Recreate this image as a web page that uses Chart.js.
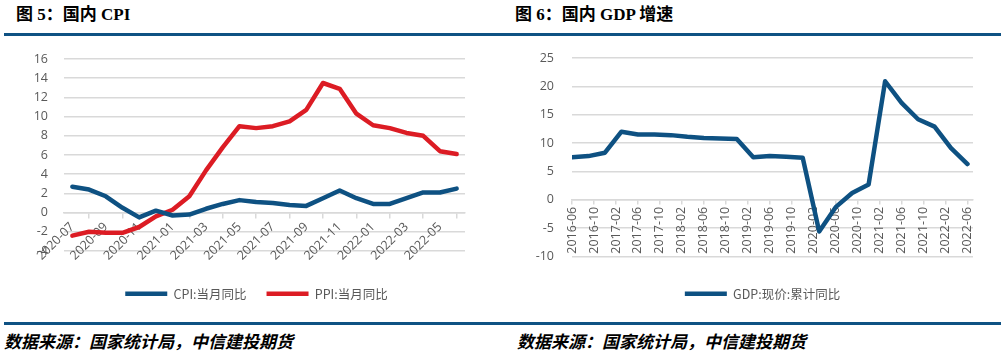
<!DOCTYPE html>
<html>
<head>
<meta charset="utf-8">
<script src="https://cdn.jsdelivr.net/npm/chart.js@4.4.1/dist/chart.umd.min.js"></script>
<style>
  html, body { margin:0; padding:0; background:#fff; }
  body { width:1001px; height:355px; position:relative; overflow:hidden; }
  .title { position:absolute; top:6px; font-family:"Liberation Serif","Noto Sans CJK SC",serif; font-weight:bold; font-size:17px; line-height:17px; color:#000; white-space:nowrap; }
  .rule { position:absolute; left:4px; width:997px; height:3px; background:#0f5283; }
  .src { position:absolute; top:332px; font-family:"Noto Sans CJK SC",sans-serif; font-weight:bold; font-style:italic; font-size:17px; line-height:17px; color:#000; white-space:nowrap; }
  .box { position:absolute; top:40px; height:270px; }
</style>
</head>
<body>
<div class="title" style="left:16px">图 5：国内 CPI</div>
<div class="title" style="left:515px">图 6：国内 GDP 增速</div>
<div class="rule" style="top:33px"></div>
<div class="box" style="left:0;width:500px"><canvas id="c1" width="500" height="270"></canvas></div>
<div class="box" style="left:500px;width:501px"><canvas id="c2" width="501" height="270"></canvas></div>
<div class="rule" style="top:322px"></div>
<div class="src" style="left:4px">数据来源：国家统计局，中信建投期货</div>
<div class="src" style="left:517px">数据来源：国家统计局，中信建投期货</div>
<script>
// ---------- data ----------
const cpiMonths = ['2020-07','2020-08','2020-09','2020-10','2020-11','2020-12',
  '2021-01','2021-02','2021-03','2021-04','2021-05','2021-06','2021-07','2021-08',
  '2021-09','2021-10','2021-11','2021-12','2022-01','2022-02','2022-03','2022-04',
  '2022-05','2022-06'];
const cpiValues = [2.7,2.4,1.7,0.5,-0.5,0.2,-0.3,-0.2,0.4,0.9,1.3,1.1,1.0,0.8,0.7,1.5,2.3,1.5,0.9,0.9,1.5,2.1,2.1,2.5];
const ppiValues = [-2.4,-2.0,-2.1,-2.1,-1.5,-0.4,0.3,1.7,4.4,6.8,9.0,8.8,9.0,9.5,10.7,13.5,12.9,10.3,9.1,8.8,8.3,8.0,6.4,6.1];
const cpiTickLabels = ['2020-07','2020-09','2020-11','2021-01','2021-03','2021-05','2021-07',
  '2021-09','2021-11','2022-01','2022-03','2022-05'];

const gdpDates = ['2016-06','2016-09','2016-12','2017-03','2017-06','2017-09','2017-12',
  '2018-03','2018-06','2018-09','2018-12','2019-03','2019-06','2019-09','2019-12',
  '2020-03','2020-06','2020-09','2020-12','2021-03','2021-06','2021-09','2021-12',
  '2022-03','2022-06'];
const gdpValues = [7.5,7.7,8.3,12.0,11.5,11.5,11.4,11.1,10.9,10.8,10.7,7.5,7.7,7.6,7.4,
  -5.6,-1.3,1.2,2.7,20.9,17.1,14.2,12.9,9.1,6.3];
const gdpTickLabels = ['2016-06','2016-10','2017-02','2017-06','2017-10','2018-02','2018-06',
  '2018-10','2019-02','2019-06','2019-10','2020-02','2020-06','2020-10','2021-02','2021-06',
  '2021-10','2022-02','2022-06'];

// ---------- styles ----------
const BLUE = '#0e5182', RED = '#dc1c24', GRID = '#d9d9d9', TXT = '#595959';
const TICK_FONT = {family:'"Open Sans", sans-serif', size:12.5};
const LEG_FONT = {family:'"Noto Sans CJK SC", sans-serif', size:12.5};

function monthIndex(s){ const [y,m] = s.split('-').map(Number); return (y-2016)*12 + (m-6); }

const legendOpts = {
  position:'bottom', fullSize:false,
  labels:{ usePointStyle:true, pointStyle:'line', pointStyleWidth:42, boxHeight:13,
           color:TXT, font:LEG_FONT, padding:20 }
};

function padAxis(h){
  return { type:'linear', position:'bottom', display:true,
    ticks:{display:false}, grid:{display:false, drawTicks:false}, border:{display:false},
    afterFit(s){ s.height = h; } };
}

function shiftLegend(dx){
  return { id:'shiftLegend', afterLayout(chart){ if (chart.legend){ chart.legend.left += dx; chart.legend.right += dx; } } };
}

function yGrid(gap){
  return { color:GRID, lineWidth:1.5, drawTicks:true, tickLength:gap, tickColor:'rgba(0,0,0,0)' };
}

new Chart(document.getElementById('c1'), {
  type:'line',
  data:{ labels:cpiMonths, datasets:[
    {label:'CPI:当月同比', data:cpiValues, borderColor:BLUE, backgroundColor:BLUE, borderWidth:4.5,
     pointRadius:0, tension:0, borderJoinStyle:'round', borderCapStyle:'round', pointStyle:'line'},
    {label:'PPI:当月同比', data:ppiValues, borderColor:RED, backgroundColor:RED, borderWidth:4.5,
     pointRadius:0, tension:0, borderJoinStyle:'round', borderCapStyle:'round', pointStyle:'line'}
  ]},
  plugins:[shiftLegend(-8)],
  options:{
    responsive:false, animation:false, devicePixelRatio:1,
    layout:{ padding:{left:0, right:35, top:19, bottom:0} },
    plugins:{ legend:legendOpts, tooltip:{enabled:false} },
    scales:{
      x:{ type:'category', position:{y:0}, offset:true,
          grid:{ offset:true, drawOnChartArea:false, drawTicks:true, tickLength:5, color:GRID, lineWidth:1.5 },
          border:{ display:true, color:GRID, width:1.5 },
          ticks:{ autoSkip:false, minRotation:45, maxRotation:45, padding:2, color:TXT, font:TICK_FONT,
                  callback(v,i){ const l = cpiMonths[i]; return cpiTickLabels.includes(l) ? l : null; } } },
      y:{ min:-4, max:16, grid:yGrid(14), border:{display:false},
          ticks:{ stepSize:2, padding:2, color:TXT, font:TICK_FONT },
          afterFit(s){ s.width = 64; } },
      pad: padAxis(16.5)
    }
  }
});

new Chart(document.getElementById('c2'), {
  type:'line',
  data:{ datasets:[
    {label:'GDP:现价:累计同比', data:gdpDates.map((d,i)=>({x:monthIndex(d), y:gdpValues[i]})),
     borderColor:BLUE, backgroundColor:BLUE, borderWidth:4.5, pointRadius:0, tension:0,
     borderJoinStyle:'round', borderCapStyle:'round', pointStyle:'line'}
  ]},
  plugins:[shiftLegend(-10)],
  options:{
    responsive:false, animation:false, devicePixelRatio:1,
    layout:{ padding:{left:0, right:28, top:18, bottom:0} },
    plugins:{ legend:legendOpts, tooltip:{enabled:false} },
    scales:{
      x:{ type:'linear', position:{y:0}, min:0, max:monthIndex('2022-07'),
          afterBuildTicks(s){ s.ticks = gdpTickLabels.map(l=>({value:monthIndex(l)})); },
          grid:{ drawOnChartArea:false, drawTicks:true, tickLength:4, color:GRID, lineWidth:1.5 },
          border:{ display:true, color:GRID, width:1.5 },
          ticks:{ autoSkip:false, minRotation:90, maxRotation:90, padding:3, color:TXT, font:TICK_FONT,
                  callback(v){ const l = gdpTickLabels.find(t=>monthIndex(t)===v); return l || null; } } },
      y:{ min:-10, max:25, grid:yGrid(16), border:{display:false},
          ticks:{ stepSize:5, padding:2, color:TXT, font:TICK_FONT },
          afterFit(s){ s.width = 72; } },
      pad: padAxis(11)
    }
  }
});
</script>
</body>
</html>
